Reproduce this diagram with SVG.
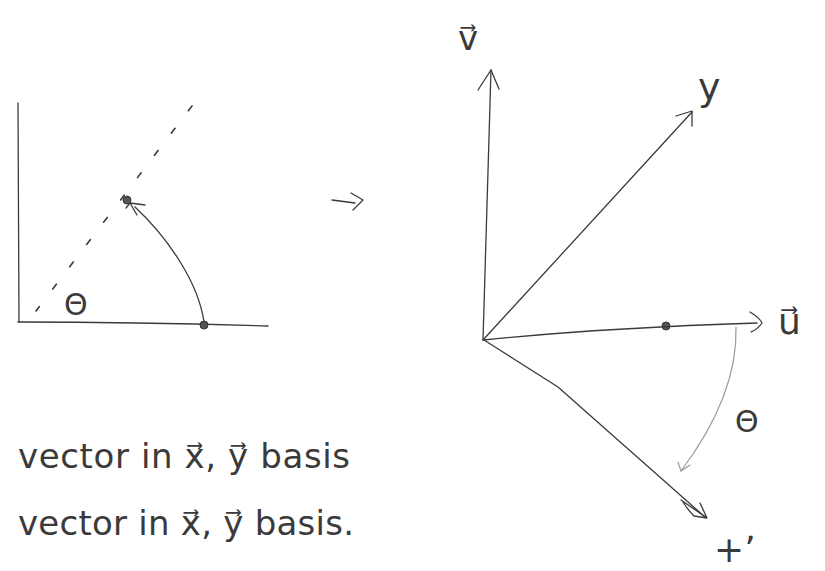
<svg xmlns="http://www.w3.org/2000/svg" width="825" height="571" viewBox="0 0 825 571">
<style>
.ln{fill:none;stroke:#3a3a3a;stroke-width:1.3;stroke-linecap:round;stroke-linejoin:round}
.lt{fill:none;stroke:#9a9a9a;stroke-width:1.2;stroke-linecap:round;stroke-linejoin:round}
.dash{fill:none;stroke:#3a3a3a;stroke-width:1.6;stroke-dasharray:6 22;stroke-linecap:round}
.dot{fill:#555;stroke:#333;stroke-width:1}
.t{font-family:"DejaVu Sans",sans-serif;fill:#3a3a3a}
</style>
<rect width="825" height="571" fill="#fff"/>
<g id="left-plot">
  <path class="ln" d="M18,103 L19,322"/>
  <path class="ln" d="M18,322 Q140,322 268,326"/>
  <path class="dash" d="M192,106 L36,311"/>
  <circle class="dot" cx="127" cy="200" r="4"/>
  <circle class="dot" cx="204" cy="325" r="4"/>
  <text id="theta-left" class="t" x="64" y="315" font-size="30">Θ</text>
</g>
<g id="right-plot">
  <circle class="dot" cx="666" cy="326" r="4"/>
  <text id="label-v" class="t" x="458" y="50" font-size="34">v⃗</text>
  <text id="label-y" class="t" x="698" y="100" font-size="38">y</text>
  <text id="label-u" class="t" x="778" y="334" font-size="36">u⃗</text>
  <text id="label-xp" class="t" x="714" y="562" font-size="36">+ʼ</text>
  <text id="theta-right" class="t" x="735" y="432" font-size="30">Θ</text>
</g>
<g id="captions">
  <text class="t" x="18" y="468" font-size="34" textLength="332" lengthAdjust="spacing">vector in x⃗, y⃗ basis</text>
  <text class="t" x="18" y="535" font-size="34" textLength="336" lengthAdjust="spacing">vector in x⃗, y⃗ basis.</text>
</g>
<g id="connectors">
  <path class="ln" d="M204,322 C198,280 165,235 135,207"/>
  <path class="ln" d="M130,203 L145,205 M130,203 L137,215 M130,203 L126,208"/>
  <path class="ln" d="M332,200 L355,203 M351,193 Q358,197 363,200 Q358,205 353,210"/>
  <path class="ln" d="M483,340 L491,70"/>
  <path class="ln" d="M478,90 L491,70 L499,89"/>
  <path class="ln" d="M483,340 L692,112"/>
  <path class="ln" d="M676,116 L692,111 L692,126"/>
  <path class="ln" d="M484,340 Q600,328 757,323"/>
  <path class="ln" d="M750,312 Q760,318 762,323 Q758,329 751,332"/>
  <path class="ln" d="M484,340 L558,387 L705,517"/>
  <path class="ln" d="M681,500 L707,518 L694,516 Q688,510 683,502 M707,518 L700,503"/>
  <path class="lt" d="M736,327 Q738,395 681,471"/>
  <path class="lt" d="M678,462 L681,471 L690,465"/>
</g>
</svg>
